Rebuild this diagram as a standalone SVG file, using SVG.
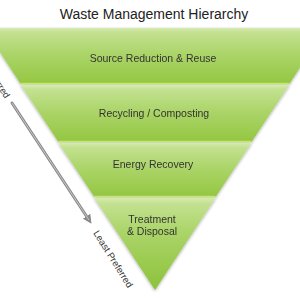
<svg xmlns="http://www.w3.org/2000/svg" width="300" height="300" viewBox="0 0 300 300">
<defs>
<linearGradient id="band" x1="0" y1="0" x2="0" y2="1">
<stop offset="0" stop-color="#d6eab0"/>
<stop offset="0.08" stop-color="#c3e190"/>
<stop offset="0.45" stop-color="#acd56a"/>
<stop offset="0.9" stop-color="#98c948"/>
<stop offset="1" stop-color="#93c540"/>
</linearGradient>
<linearGradient id="tip" x1="0" y1="0" x2="0" y2="1">
<stop offset="0" stop-color="#d6eab0"/>
<stop offset="0.06" stop-color="#c3e190"/>
<stop offset="0.35" stop-color="#acd56a"/>
<stop offset="1" stop-color="#8cc23a"/>
</linearGradient>
<filter id="sh" x="-10%" y="-10%" width="120%" height="120%">
<feDropShadow dx="0" dy="1" stdDeviation="1.5" flood-color="#000" flood-opacity="0.35"/>
</filter>
<marker id="ah" viewBox="0 0 10 10" refX="5" refY="5" markerWidth="3" markerHeight="3" orient="auto">
<path d="M0,0 L10,5 L0,10 z" fill="#8a8a8a"/>
</marker>
</defs>
<style>
.t{font-family:"Liberation Sans",Arial,sans-serif;fill:#333;text-anchor:middle;font-size:10.5px}
.s{font-family:"Liberation Sans",Arial,sans-serif;fill:#333;font-size:9.5px}
.line{fill:none;stroke:#c4e86c;stroke-width:1.5}
</style>
<rect width="300" height="300" fill="#fff"/>
<text x="154" y="19" font-family="Liberation Sans,Arial,sans-serif" font-size="14" fill="#222" text-anchor="middle">Waste Management Hierarchy</text>
<g filter="url(#sh)">
<g id="source-reduction">
<polygon points="-15.8,28 325.8,28 289.3,84 20.7,84" fill="url(#band)"/>
<line class="line" x1="20.7" y1="83.5" x2="289.3" y2="83.5"/>
<text class="t" x="153" y="62">Source Reduction &amp; Reuse</text>
</g>
<g id="recycling">
<polygon points="20.7,85 289.3,85 251.5,142 58.5,142" fill="url(#band)"/>
<line class="line" x1="58.5" y1="141.5" x2="251.5" y2="141.5"/>
<text class="t" x="154" y="117">Recycling / Composting</text>
</g>
<g id="energy-recovery">
<polygon points="58.5,143 251.5,143 215.6,197 94.4,197" fill="url(#band)"/>
<line class="line" x1="94.4" y1="196.5" x2="215.6" y2="196.5"/>
<text class="t" x="153" y="168">Energy Recovery</text>
</g>
<g id="treatment-disposal">
<polygon points="94.4,198 215.6,198 155,290" fill="url(#tip)"/>
<text class="t" x="152" y="223">Treatment</text>
<text class="t" x="152" y="235">&amp; Disposal</text>
</g>
</g>
<g id="connectors">
<line x1="12" y1="103" x2="89" y2="220" stroke="#8a8a8a" stroke-width="3" stroke-linecap="round" marker-end="url(#ah)"/>
<line x1="12" y1="103" x2="89" y2="220" stroke="#c8c8c8" stroke-width="1"/>
</g>
<text class="s" transform="translate(5,99) rotate(57)" text-anchor="end">Most Preferred</text>
<text class="s" transform="translate(93,233) rotate(58)">Least Preferred</text>
</svg>
